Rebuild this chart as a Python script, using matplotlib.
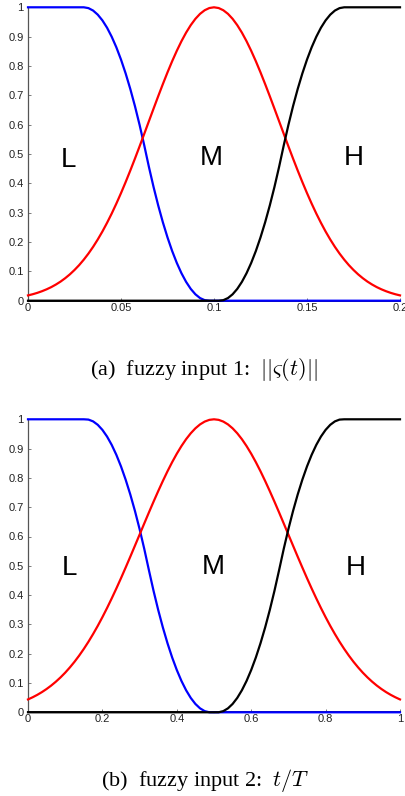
import matplotlib
matplotlib.use("Agg")
import matplotlib.pyplot as plt

# ---------------- data ----------------
# panel (a): fuzzy input 1, x from 0 to 0.2
x_a = [0.0000, 0.0025, 0.0050, 0.0075, 0.0100, 0.0125, 0.0150, 0.0175, 0.0200, 0.0225,
       0.0250, 0.0275, 0.0300, 0.0325, 0.0350, 0.0375, 0.0400, 0.0425, 0.0450, 0.0475,
       0.0500, 0.0525, 0.0550, 0.0575, 0.0600, 0.0625, 0.0650, 0.0675, 0.0700, 0.0725,
       0.0750, 0.0775, 0.0800, 0.0825, 0.0850, 0.0875, 0.0900, 0.0925, 0.0950, 0.0975,
       0.1000, 0.1025, 0.1050, 0.1075, 0.1100, 0.1125, 0.1150, 0.1175, 0.1200, 0.1225,
       0.1250, 0.1275, 0.1300, 0.1325, 0.1350, 0.1375, 0.1400, 0.1425, 0.1450, 0.1475,
       0.1500, 0.1525, 0.1550, 0.1575, 0.1600, 0.1625, 0.1650, 0.1675, 0.1700, 0.1725,
       0.1750, 0.1775, 0.1800, 0.1825, 0.1850, 0.1875, 0.1900, 0.1925, 0.1950, 0.1975,
       0.2000]
low_a = [1, 1, 1, 1, 1, 1, 1, 1, 1, 1,
         1, 1, 1, 0.9972, 0.9889, 0.9749, 0.9554, 0.9304, 0.8997, 0.8636,
         0.8218, 0.7745, 0.7216, 0.6631, 0.5990, 0.5294, 0.4562, 0.3877, 0.3248, 0.2674,
         0.2157, 0.1694, 0.1288, 0.0937, 0.0642, 0.0402, 0.0218, 0.0090, 0.0018, 0,
         0, 0, 0, 0, 0, 0, 0, 0, 0, 0,
         0, 0, 0, 0, 0, 0, 0, 0, 0, 0,
         0, 0, 0, 0, 0, 0, 0, 0, 0, 0,
         0, 0, 0, 0, 0, 0, 0, 0, 0, 0,
         0]
med_a = [0.0181, 0.0220, 0.0267, 0.0323, 0.0388, 0.0463, 0.0551, 0.0651, 0.0767, 0.0898,
         0.1047, 0.1213, 0.1400, 0.1607, 0.1835, 0.2086, 0.2358, 0.2654, 0.2970, 0.3309,
         0.3667, 0.4044, 0.4437, 0.4844, 0.5262, 0.5688, 0.6117, 0.6545, 0.6969, 0.7382,
         0.7782, 0.8162, 0.8517, 0.8844, 0.9137, 0.9392, 0.9607, 0.9777, 0.9900, 0.9975,
         1.0000,
         0.9975, 0.9900, 0.9777, 0.9607, 0.9392, 0.9137, 0.8844, 0.8517, 0.8162, 0.7782,
         0.7382, 0.6969, 0.6545, 0.6117, 0.5688, 0.5262, 0.4844, 0.4437, 0.4044, 0.3667,
         0.3309, 0.2970, 0.2654, 0.2358, 0.2086, 0.1835, 0.1607, 0.1400, 0.1213, 0.1047,
         0.0898, 0.0767, 0.0651, 0.0551, 0.0463, 0.0388, 0.0323, 0.0267, 0.0220, 0.0181]
high_a = [0,
          0, 0, 0, 0, 0, 0, 0, 0, 0, 0,
          0, 0, 0, 0, 0, 0, 0, 0, 0, 0,
          0, 0, 0, 0, 0, 0, 0, 0, 0, 0,
          0, 0, 0, 0, 0, 0, 0, 0, 0, 0,
          0, 0.0018, 0.0090, 0.0218, 0.0402, 0.0642, 0.0937, 0.1288, 0.1694, 0.2157,
          0.2674, 0.3248, 0.3877, 0.4562, 0.5294, 0.5990, 0.6631, 0.7216, 0.7745, 0.8218,
          0.8636, 0.8997, 0.9304, 0.9554, 0.9749, 0.9889, 0.9972, 1, 1, 1,
          1, 1, 1, 1, 1, 1, 1, 1, 1, 1]

# panel (b): fuzzy input 2, x from 0 to 1
x_b = [0.0000, 0.0125, 0.0250, 0.0375, 0.0500, 0.0625, 0.0750, 0.0875, 0.1000, 0.1125,
       0.1250, 0.1375, 0.1500, 0.1625, 0.1750, 0.1875, 0.2000, 0.2125, 0.2250, 0.2375,
       0.2500, 0.2625, 0.2750, 0.2875, 0.3000, 0.3125, 0.3250, 0.3375, 0.3500, 0.3625,
       0.3750, 0.3875, 0.4000, 0.4125, 0.4250, 0.4375, 0.4500, 0.4625, 0.4750, 0.4875,
       0.5000, 0.5125, 0.5250, 0.5375, 0.5500, 0.5625, 0.5750, 0.5875, 0.6000, 0.6125,
       0.6250, 0.6375, 0.6500, 0.6625, 0.6750, 0.6875, 0.7000, 0.7125, 0.7250, 0.7375,
       0.7500, 0.7625, 0.7750, 0.7875, 0.8000, 0.8125, 0.8250, 0.8375, 0.8500, 0.8625,
       0.8750, 0.8875, 0.9000, 0.9125, 0.9250, 0.9375, 0.9500, 0.9625, 0.9750, 0.9875,
       1.0000]
low_b = [1, 1, 1, 1, 1, 1, 1, 1, 1, 1,
         1, 1, 1, 0.9990, 0.9929, 0.9812, 0.9639, 0.9411, 0.9127, 0.8787,
         0.8392, 0.7940, 0.7434, 0.6871, 0.6253, 0.5579, 0.4852, 0.4145, 0.3493, 0.2897,
         0.2357, 0.1872, 0.1444, 0.1070, 0.0753, 0.0491, 0.0285, 0.0135, 0.0040, 0.0001,
         0, 0, 0, 0, 0, 0, 0, 0, 0, 0,
         0, 0, 0, 0, 0, 0, 0, 0, 0, 0,
         0, 0, 0, 0, 0, 0, 0, 0, 0, 0,
         0, 0, 0, 0, 0, 0, 0, 0, 0, 0,
         0]
med_b = [0.0439, 0.0513, 0.0596, 0.0690, 0.0796, 0.0914, 0.1046, 0.1192, 0.1353, 0.1531,
         0.1724, 0.1935, 0.2163, 0.2408, 0.2671, 0.2950, 0.3247, 0.3559, 0.3886, 0.4226,
         0.4578, 0.4941, 0.5311, 0.5687, 0.6065, 0.6444, 0.6820, 0.7189, 0.7548, 0.7895,
         0.8226, 0.8537, 0.8825, 0.9087, 0.9321, 0.9523, 0.9692, 0.9826, 0.9922, 0.9981,
         1.0000,
         0.9981, 0.9922, 0.9826, 0.9692, 0.9523, 0.9321, 0.9087, 0.8825, 0.8537, 0.8226,
         0.7895, 0.7548, 0.7189, 0.6820, 0.6444, 0.6065, 0.5687, 0.5311, 0.4941, 0.4578,
         0.4226, 0.3886, 0.3559, 0.3247, 0.2950, 0.2671, 0.2408, 0.2163, 0.1935, 0.1724,
         0.1531, 0.1353, 0.1192, 0.1046, 0.0914, 0.0796, 0.0690, 0.0596, 0.0513, 0.0439]
high_b = [0,
          0, 0, 0, 0, 0, 0, 0, 0, 0, 0,
          0, 0, 0, 0, 0, 0, 0, 0, 0, 0,
          0, 0, 0, 0, 0, 0, 0, 0, 0, 0,
          0, 0, 0, 0, 0, 0, 0, 0, 0, 0,
          0.0001, 0.0040, 0.0135, 0.0285, 0.0491, 0.0753, 0.1070, 0.1444, 0.1872, 0.2357,
          0.2897, 0.3493, 0.4145, 0.4852, 0.5579, 0.6253, 0.6871, 0.7434, 0.7940, 0.8392,
          0.8787, 0.9127, 0.9411, 0.9639, 0.9812, 0.9929, 0.9990, 1, 1, 1,
          1, 1, 1, 1, 1, 1, 1, 1, 1, 1]

set_labels = ["L", "M", "H"]
yticks = [0, 0.1, 0.2, 0.3, 0.4, 0.5, 0.6, 0.7, 0.8, 0.9, 1]
ytick_labels = ["0", "0.1", "0.2", "0.3", "0.4", "0.5", "0.6", "0.7", "0.8", "0.9", "1"]
xticks_a = [0, 0.05, 0.1, 0.15, 0.2]
xtick_labels_a = ["0", "0.05", "0.1", "0.15", "0.2"]
xticks_b = [0, 0.2, 0.4, 0.6, 0.8, 1]
xtick_labels_b = ["0", "0.2", "0.4", "0.6", "0.8", "1"]
caption_a = r"(a)  fuzzy input 1:  $||\varsigma(t)||$"
caption_b = r"(b)  fuzzy input 2:  $t/T$"

# label positions (data coords)
label_pos_a = [(0.0217, 0.455), (0.0986, 0.462), (0.1753, 0.462)]
label_pos_b = [(0.111, 0.468), (0.498, 0.471), (0.880, 0.468)]

# ---------------- figure ----------------
plt.rcParams["font.family"] = ["Liberation Sans", "DejaVu Sans"]
plt.rcParams["mathtext.fontset"] = "cm"

W, H = 406, 796
fig = plt.figure(figsize=(W / 100, H / 100), dpi=100)


def make_axes(top_px, bottom_px):
    left_px, right_px = 28, 400
    return fig.add_axes([left_px / W, 1 - bottom_px / H,
                         (right_px - left_px) / W, (bottom_px - top_px) / H])


def draw(ax, x, lo, me, hi, xmax, xticks, xlabels, lpos):
    lw = 1.6
    ax.plot(x, lo, color="#0000ff", lw=lw, clip_on=False, zorder=3)
    ax.plot(x, me, color="#ff0000", lw=lw, clip_on=False, zorder=4)
    ax.plot(x, hi, color="#000000", lw=lw, clip_on=False, zorder=5)
    ax.set_xlim(0, xmax)
    ax.set_ylim(0, 1)
    ax.set_xticks(xticks)
    ax.set_xticklabels(xlabels)
    ax.set_yticks(yticks)
    ax.set_yticklabels(ytick_labels)
    for s in ("top", "right"):
        ax.spines[s].set_visible(False)
    ax.spines["left"].set_color("#555555")
    ax.spines["bottom"].set_color("#000000")
    ax.spines["left"].set_linewidth(0.9)
    ax.spines["bottom"].set_linewidth(1.2)
    ax.tick_params(axis="both", direction="in", length=2.5, width=0.6,
                   color="#666666", labelsize=8, labelcolor="#222222")
    ax.tick_params(axis="x", pad=1.5)
    ax.tick_params(axis="y", pad=3)
    for lab, (tx, ty) in zip(set_labels, lpos):
        ax.text(tx, ty, lab, ha="center", va="baseline", fontsize=20,
                color="#000000", family=["Liberation Sans", "DejaVu Sans"])


ax1 = make_axes(7.3, 300.7)
draw(ax1, x_a, low_a, med_a, high_a, 0.2, xticks_a, xtick_labels_a, label_pos_a)
ax2 = make_axes(419.3, 712.3)
draw(ax2, x_b, low_b, med_b, high_b, 1.0, xticks_b, xtick_labels_b, label_pos_b)

fig.text(204 / W, 1 - 375 / H, caption_a, ha="center", va="baseline",
         fontsize=16, family=["Liberation Serif", "DejaVu Serif"])
fig.text(205.5 / W, 1 - 786 / H, caption_b, ha="center", va="baseline",
         fontsize=16, family=["Liberation Serif", "DejaVu Serif"])

fig.savefig("out.png", dpi=100)
